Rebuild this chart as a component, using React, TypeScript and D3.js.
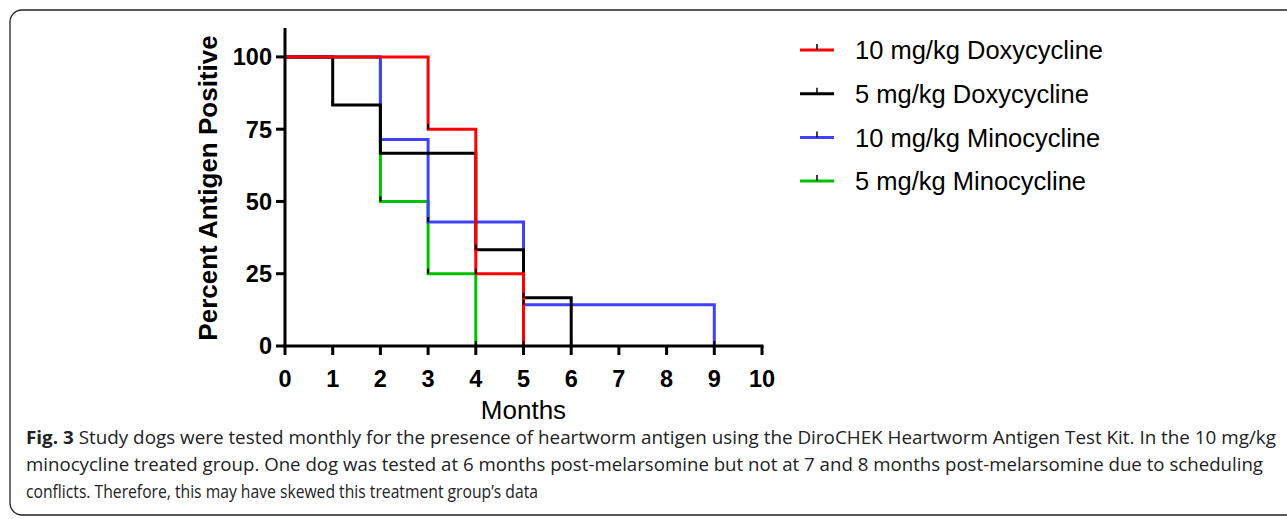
import React from "react";
import * as d3 from "d3";

const months = [0, 1, 2, 3, 4, 5, 6, 7, 8, 9, 10];
const yTicks = [0, 25, 50, 75, 100];

const seriesNames = [
	"10 mg/kg Doxycycline",
	"5 mg/kg Doxycycline",
	"10 mg/kg Minocycline",
	"5 mg/kg Minocycline",
];
const seriesColors = ["#ff0000", "#000000", "#4040ff", "#00c000"];

const doxy10 = [100, 100, 100, 75, 25, 0];
const doxy5 = [100, 83.33, 66.67, 66.67, 33.33, 16.67, 0];
const mino10 = [100, 100, 71.43, 42.86, 42.86, 14.29, 14.29, 14.29, 14.29, 0];
const mino5 = [100, 100, 50, 25, 0];

const captionLines = [
	"Study dogs were tested monthly for the presence of heartworm antigen using the DiroCHEK Heartworm Antigen Test Kit. In the 10 mg/kg",
	"minocycline treated group. One dog was tested at 6 months post-melarsomine but not at 7 and 8 months post-melarsomine due to scheduling",
	"conflicts. Therefore, this may have skewed this treatment group\u2019s data",
];
const captionWidths = [1250, 1237, 512];

const W = 1287;
const H = 519;
const chartFont = "'Liberation Sans', Arial, sans-serif";

export default function App() {
	const x = d3.scaleLinear().domain([0, 10]).range([285, 762]);
	const y = d3.scaleLinear().domain([0, 110]).range([346, 28]);
	const line = d3
		.line<number>()
		.x((d, i) => x(i))
		.y((d) => y(d))
		.curve(d3.curveStepAfter);

	const series = [doxy10, doxy5, mino10, mino5];
	// draw order so overlaps look like the original
	const drawOrder = [3, 2, 1, 0];

	const drops: { x: number; y: number }[] = [];
	series.forEach((s) => {
		s.forEach((v, i) => {
			if (i > 0 && v < s[i - 1]) drops.push({ x: i, y: v });
		});
	});

	return (
		<svg width={W} height={H} style={{ position: "absolute", left: 0, top: 0 }}>
			<rect x={10} y={10} width={1320} height={505} rx={12} fill="white" stroke="#222" strokeWidth={1.3} />

			{drawOrder.map((k) => (
				<path key={k} d={line(series[k]) || ""} fill="none" stroke={seriesColors[k]} strokeWidth={3} />
			))}
			{drops.map((d, i) => (
				<line key={i} x1={x(d.x)} x2={x(d.x)} y1={y(d.y)} y2={y(d.y) - 5} stroke="#000" strokeWidth={2} />
			))}

			{/* axes */}
			<line x1={x(0)} x2={x(0)} y1={y(110)} y2={y(0) + 1.5} stroke="#000" strokeWidth={3} />
			<line x1={x(0) - 1.5} x2={x(10) + 1.5} y1={y(0)} y2={y(0)} stroke="#000" strokeWidth={3} />
			{yTicks.map((t) => (
				<g key={t}>
					<line x1={x(0) - 9} x2={x(0)} y1={y(t)} y2={y(t)} stroke="#000" strokeWidth={3} />
					<text x={x(0) - 13} y={y(t)} dy="0.36em" textAnchor="end" fontFamily={chartFont} fontWeight="bold" fontSize={23.5}>
						{t}
					</text>
				</g>
			))}
			{months.map((m) => (
				<g key={m}>
					<line x1={x(m)} x2={x(m)} y1={y(0)} y2={y(0) + 9} stroke="#000" strokeWidth={3} />
					<text x={x(m)} y={y(0) + 41} textAnchor="middle" fontFamily={chartFont} fontWeight="bold" fontSize={23.5}>
						{m}
					</text>
				</g>
			))}
			<text
				transform={`translate(217,${(y(110) + y(0)) / 2 + 1}) rotate(-90)`}
				textAnchor="middle"
				fontFamily={chartFont}
				fontWeight="bold"
				fontSize={26}
			>
				Percent Antigen Positive
			</text>
			<text x={(x(0) + x(10)) / 2} y={419} textAnchor="middle" fontFamily={chartFont} fontSize={26}>
				Months
			</text>

			{/* legend */}
			{seriesNames.map((n, i) => (
				<g key={n} transform={`translate(800,${50 + i * 43.7})`}>
					<line x1={0} x2={34} y1={0} y2={0} stroke={seriesColors[i]} strokeWidth={3} />
					<line x1={17} x2={17} y1={0} y2={-6} stroke="#000" strokeWidth={1.5} />
					<text x={55} y={0} dy="0.36em" fontFamily={chartFont} fontSize={25.5}>
						{n}
					</text>
				</g>
			))}

			{/* caption */}
			{captionLines.map((c, i) => (
				<text
					key={i}
					x={26}
					y={444 + i * 27}
					fontFamily="'Open Sans', sans-serif"
					fontSize={18}
					fill="#222"
					textLength={captionWidths[i]}
					lengthAdjust="spacingAndGlyphs"
				>
					{i === 0 && <tspan fontWeight="bold">Fig. 3 </tspan>}
					{c}
				</text>
			))}
		</svg>
	);
}
